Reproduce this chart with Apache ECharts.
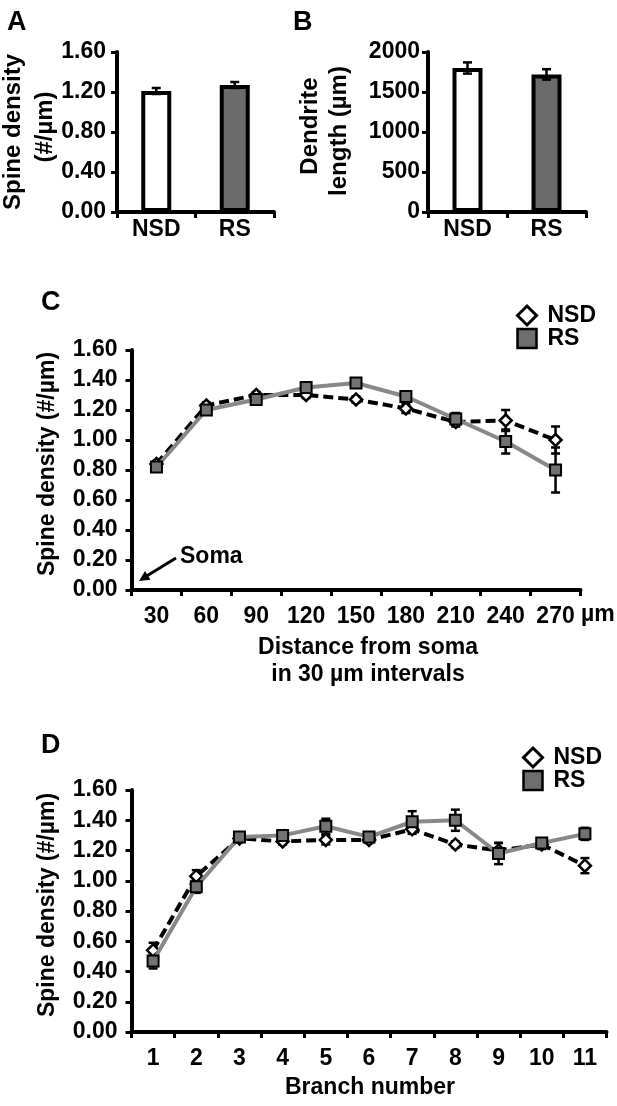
<!DOCTYPE html>
<html>
<head>
<meta charset="utf-8">
<script src="https://cdn.jsdelivr.net/npm/echarts@6/dist/echarts.min.js"></script>
<style>
  html, body { margin: 0; padding: 0; background: #fff; }
  #chart { width: 617px; height: 1106px; }
</style>
</head>
<body>
<div id="chart"></div>
<script>
'use strict';
// panel A / B: group means with SEM
const groups = ['NSD', 'RS'];
const spineDensity = [1.21, 1.27];
const spineDensityErr = [0.03, 0.03];
const dendriteLength = [1800, 1720];
const dendriteLengthErr = [70, 65];

// panel C: spine density by distance from soma
const distances = ['30', '60', '90', '120', '150', '180', '210', '240', '270'];
const distNSD = [0.84, 1.23, 1.30, 1.30, 1.27, 1.21, 1.12, 1.13, 1.00];
const distNSDErr = [0.02, 0.02, 0.02, 0.02, 0.02, 0.03, 0.03, 0.07, 0.09];
const distRS = [0.82, 1.20, 1.27, 1.35, 1.38, 1.29, 1.14, 0.99, 0.80];
const distRSErr = [0.02, 0.02, 0.02, 0.02, 0.03, 0.03, 0.04, 0.08, 0.15];

// panel D: spine density by branch number
const branches = ['1', '2', '3', '4', '5', '6', '7', '8', '9', '10', '11'];
const branchNSD = [0.54, 1.03, 1.28, 1.26, 1.27, 1.27, 1.34, 1.24, 1.20, 1.24, 1.10];
const branchNSDErr = [0.05, 0.04, 0.02, 0.02, 0.03, 0.02, 0.03, 0.02, 0.05, 0.03, 0.05];
const branchRS = [0.47, 0.96, 1.29, 1.30, 1.36, 1.29, 1.39, 1.40, 1.18, 1.25, 1.31];
const branchRSErr = [0.05, 0.04, 0.02, 0.03, 0.05, 0.02, 0.07, 0.07, 0.07, 0.03, 0.04];

const FONT = '"Liberation Sans", Arial, Helvetica, sans-serif';

function errData(means, errs) {
    return means.map((m, i) => [i, m, errs[i]]);
}

// vertical error bar with caps
function errRender(capHalf) {
    return function (params, api) {
        const x = api.value(0);
        const m = api.value(1);
        const e = api.value(2);
        const hi = api.coord([x, m + e]);
        const lo = api.coord([x, m - e]);
        const style = { stroke: '#000', lineWidth: 2.5 };
        return {
            type: 'group',
            children: [
                { type: 'line', shape: { x1: hi[0], y1: hi[1], x2: lo[0], y2: lo[1] }, style: style },
                { type: 'line', shape: { x1: hi[0] - capHalf, y1: hi[1], x2: hi[0] + capHalf, y2: hi[1] }, style: style },
                { type: 'line', shape: { x1: lo[0] - capHalf, y1: lo[1], x2: lo[0] + capHalf, y2: lo[1] }, style: style },
            ],
        };
    };
}

const axisLine = { show: true, onZero: false, lineStyle: { color: '#000', width: 4 } };
const axisTick = { show: true, length: 6, lineStyle: { color: '#000', width: 3 } };
const labelFont = { color: '#000', fontSize: 23, fontWeight: 'bold', fontFamily: FONT };

function catAxis(idx, data, margin) {
    return {
        type: 'category', gridIndex: idx, data: data,
        axisLine: axisLine, axisTick: axisTick,
        axisLabel: Object.assign({ margin: margin, interval: 0 }, labelFont),
        splitLine: { show: false },
    };
}

function valAxis(idx, max, interval, margin, digits) {
    return {
        type: 'value', gridIndex: idx, min: 0, max: max, interval: interval,
        axisLine: axisLine, axisTick: axisTick,
        axisLabel: Object.assign({
            margin: margin,
            formatter: (v) => v.toFixed(digits),
        }, labelFont),
        splitLine: { show: false },
    };
}

function txt(x, y, text, size, align, rot) {
    return {
        type: 'text', x: x, y: y, rotation: rot || 0, silent: true,
        style: {
            text: text, fill: '#000', fontSize: size, fontWeight: 'bold', fontFamily: FONT,
            align: align || 'left', verticalAlign: 'middle',
        },
    };
}

function legendFor(left, top) {
    return {
        orient: 'vertical', left: left, top: top, itemGap: 0,
        itemWidth: 19, itemHeight: 19, selectedMode: false,
        textStyle: Object.assign({ padding: [0, 0, 0, 6] }, labelFont),
        data: [
            { name: 'NSD', icon: 'diamond', itemStyle: { color: '#fff', borderColor: '#000', borderWidth: 3 } },
            { name: 'RS', icon: 'rect', itemStyle: { color: '#6e6e6e', borderColor: '#000', borderWidth: 2.5 } },
        ],
    };
}

function nsdLine(idx, data) {
    return {
        name: 'NSD', type: 'line', xAxisIndex: idx, yAxisIndex: idx, data: data, z: 2,
        symbol: 'diamond', symbolSize: 12,
        itemStyle: { color: '#fff', borderColor: '#000', borderWidth: 2.5 },
        lineStyle: { color: '#000', width: 4, type: [10, 5] },
    };
}

function rsLine(idx, data) {
    return {
        name: 'RS', type: 'line', xAxisIndex: idx, yAxisIndex: idx, data: data, z: 3,
        symbol: 'rect', symbolSize: 11,
        itemStyle: { color: '#727272', borderColor: '#000', borderWidth: 2 },
        lineStyle: { color: '#888', width: 4 },
    };
}

function errSeries(idx, means, errs, z) {
    return {
        type: 'custom', xAxisIndex: idx, yAxisIndex: idx, z: z, silent: true,
        renderItem: errRender(4.5),
        encode: { x: 0, y: 1 },
        data: errData(means, errs),
    };
}

function init() {
    const chart = echarts.init(document.getElementById('chart'), null, { renderer: 'canvas' });
    const option = {
        animation: false,
        backgroundColor: '#fff',
        grid: [
            { left: 117, top: 52, width: 157, height: 160, outerBoundsMode: 'none' },
            { left: 428, top: 52, width: 158, height: 160, outerBoundsMode: 'none' },
            { left: 131.5, top: 350, width: 449, height: 240, outerBoundsMode: 'none' },
            { left: 131.5, top: 790, width: 475, height: 242, outerBoundsMode: 'none' },
        ],
        xAxis: [
            catAxis(0, groups, 6),
            catAxis(1, groups, 6),
            catAxis(2, distances, 15),
            catAxis(3, branches, 15),
        ],
        yAxis: [
            valAxis(0, 1.6, 0.4, 11, 2),
            valAxis(1, 2000, 500, 8, 0),
            valAxis(2, 1.6, 0.2, 14, 2),
            valAxis(3, 1.6, 0.2, 14, 2),
        ],
        legend: [legendFor(511, 299), legendFor(517, 741)],
        series: [
            {
                type: 'bar', xAxisIndex: 0, yAxisIndex: 0, data: spineDensity, barWidth: 30,
                itemStyle: {
                    borderColor: '#000', borderWidth: 4,
                    color: (p) => (p.dataIndex === 0 ? '#fff' : '#6b6b6b'),
                },
            },
            errSeries(0, spineDensity, spineDensityErr, 5),
            {
                type: 'bar', xAxisIndex: 1, yAxisIndex: 1, data: dendriteLength, barWidth: 30,
                itemStyle: {
                    borderColor: '#000', borderWidth: 4,
                    color: (p) => (p.dataIndex === 0 ? '#fff' : '#6b6b6b'),
                },
            },
            errSeries(1, dendriteLength, dendriteLengthErr, 5),
            errSeries(2, distNSD, distNSDErr, 1),
            errSeries(2, distRS, distRSErr, 1),
            nsdLine(2, distNSD),
            rsLine(2, distRS),
            errSeries(3, branchNSD, branchNSDErr, 1),
            errSeries(3, branchRS, branchRSErr, 1),
            nsdLine(3, branchNSD),
            rsLine(3, branchRS),
        ],
        graphic: [
            // panel letters
            txt(7, 23, 'A', 27),
            txt(293, 23, 'B', 27),
            txt(41, 303, 'C', 27),
            txt(41, 746, 'D', 27),
            // axis titles
            txt(13, 132, 'Spine density', 24, 'center', Math.PI / 2),
            txt(45, 127, '(#/µm)', 24, 'center', Math.PI / 2),
            txt(310, 126, 'Dendrite', 24, 'center', Math.PI / 2),
            txt(339, 131, 'length (µm)', 24, 'center', Math.PI / 2),
            txt(48, 464, 'Spine density (#/µm)', 23, 'center', Math.PI / 2),
            txt(48, 905, 'Spine density (#/µm)', 23, 'center', Math.PI / 2),
            txt(581, 615, 'µm', 23),
            txt(368, 648, 'Distance from soma', 23, 'center'),
            txt(368, 675, 'in 30 µm intervals', 23, 'center'),
            txt(370, 1088, 'Branch number', 23, 'center'),
            // soma annotation
            txt(180, 557, 'Soma', 23),
            {
                type: 'line', silent: true,
                shape: { x1: 176, y1: 558, x2: 145, y2: 577 },
                style: { stroke: '#000', lineWidth: 3 },
            },
            {
                type: 'polygon', silent: true,
                shape: { points: [[139, 581], [150.5, 579.8], [145, 571]] },
                style: { fill: '#000' },
            },
        ],
    };
    chart.setOption(option);
    window.addEventListener('resize', () => chart.resize());
}

(function () {
    init();
})();
</script>
</body>
</html>
